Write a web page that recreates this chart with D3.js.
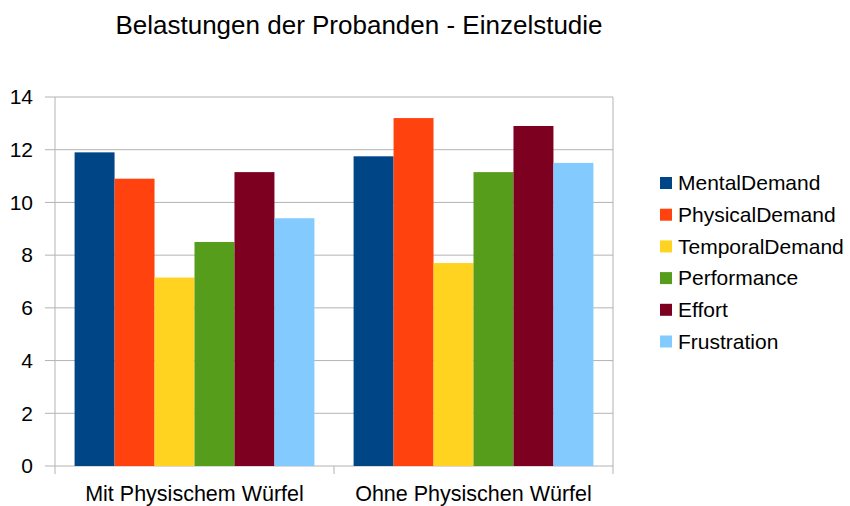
<!DOCTYPE html>
<html>
<head>
<meta charset="utf-8">
<script src="https://cdn.jsdelivr.net/npm/d3@7"></script>
<style>
  body { margin: 0; background: #fff; }
  text { font-family: "Liberation Sans", Arial, sans-serif; fill: #000; }
</style>
</head>
<body>
<svg id="chart" width="850" height="506"></svg>
<script>
// chart data
const categories = ['Mit Physischem Würfel', 'Ohne Physischen Würfel'];
const seriesNames = ['MentalDemand', 'PhysicalDemand', 'TemporalDemand', 'Performance', 'Effort', 'Frustration'];
const mitValues = [11.9, 10.9, 7.15, 8.5, 11.15, 9.4];
const ohneValues = [11.75, 13.2, 7.7, 11.15, 12.9, 11.5];
const yTicks = [0, 2, 4, 6, 8, 10, 12, 14];
const colors = ['#004586', '#ff420e', '#ffd320', '#579d1c', '#7e0021', '#83caff'];

const rows = [mitValues, ohneValues];

const svg = d3.select('#chart');
const plotLeft = 55, plotRight = 613, plotTop = 97, plotBottom = 466;

const x = d3.scaleBand().domain(categories).range([plotLeft, plotRight]).paddingInner(0).paddingOuter(0);
const xs = d3.scaleBand().domain(seriesNames).range([0, x.bandwidth()]).paddingOuter(0.49);
const y = d3.scaleLinear().domain([0, 14]).range([plotBottom, plotTop]);

// gridlines
svg.append('g').selectAll('line')
    .data(yTicks)
    .enter().append('line')
    .attr('x1', plotLeft - 10).attr('x2', plotRight)
    .attr('y1', d => y(d)).attr('y2', d => y(d))
    .attr('stroke', '#b3b3b3').attr('stroke-width', 1);

// frame + category ticks
[plotLeft, x(categories[1]), plotRight].forEach((px, i) => {
    svg.append('line')
        .attr('x1', px).attr('x2', px)
        .attr('y1', i === 1 ? plotBottom : plotTop).attr('y2', plotBottom + 8)
        .attr('stroke', '#b3b3b3');
});

// bars
const groups = svg.append('g').selectAll('g')
    .data(rows)
    .enter().append('g')
    .attr('transform', (d, i) => `translate(${x(categories[i])},0)`);

groups.selectAll('rect')
    .data(d => d.map((v, j) => ({ name: seriesNames[j], value: v, color: colors[j] })))
    .enter().append('rect')
    .attr('x', d => xs(d.name))
    .attr('width', xs.bandwidth())
    .attr('y', d => y(d.value))
    .attr('height', d => y(0) - y(d.value))
    .attr('fill', d => d.color);

// y labels
svg.append('g').selectAll('text')
    .data(yTicks)
    .enter().append('text')
    .attr('x', 33).attr('y', d => y(d))
    .attr('dy', '0.35em')
    .attr('text-anchor', 'end')
    .attr('font-size', 21)
    .text(d => d);

// x labels
svg.append('g').selectAll('text')
    .data(categories)
    .enter().append('text')
    .attr('x', d => x(d) + x.bandwidth() / 2)
    .attr('y', 501)
    .attr('text-anchor', 'middle')
    .attr('font-size', 21.5)
    .text(d => d);

// title
svg.append('text')
    .attr('x', 359).attr('y', 34)
    .attr('text-anchor', 'middle')
    .attr('font-size', 26)
    .text('Belastungen der Probanden - Einzelstudie');

// legend
const legend = svg.append('g').selectAll('g')
    .data(seriesNames)
    .enter().append('g')
    .attr('transform', (d, i) => `translate(660,${183 + i * 31.7})`);
legend.append('rect')
    .attr('x', 0).attr('y', -6).attr('width', 12).attr('height', 12)
    .attr('fill', (d, i) => colors[i]);
legend.append('text')
    .attr('x', 18).attr('dy', '0.35em')
    .attr('font-size', 21)
    .text(d => d);
</script>
</body>
</html>
